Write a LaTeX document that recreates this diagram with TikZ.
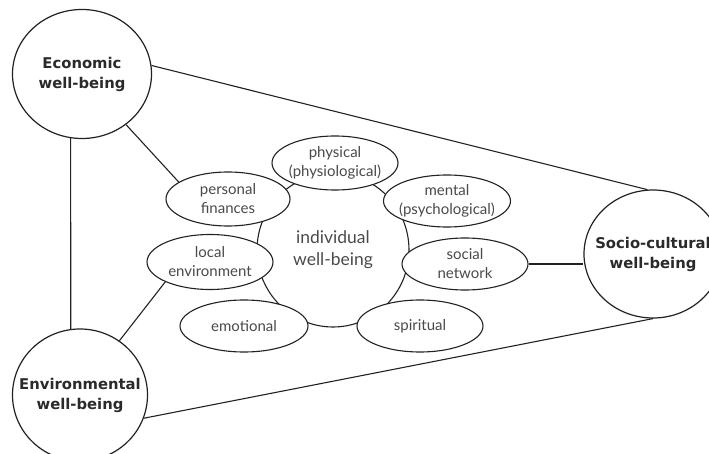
\documentclass[tikz,border=0pt]{standalone}
\usepackage{fontspec}
\setmainfont{Lato}
\newfontfamily\boldface{DejaVu Sans}
\usetikzlibrary{shapes.geometric}
\definecolor{ink}{HTML}{222222}
\definecolor{soft}{HTML}{4A4A4A}
\definecolor{heavy}{HTML}{2A2A2A}
\begin{document}
\begin{tikzpicture}[x=1pt,y=-1pt,
  big/.style={draw=ink,line width=1.2pt,ellipse,fill=white,inner xsep=-24pt,inner ysep=-6pt,align=center,font=\boldface\fontsize{14.8}{20}\selectfont\bfseries,text=heavy},
  sub/.style={draw=ink,line width=1.1pt,ellipse,fill=white,inner xsep=-14pt,inner ysep=-7pt,align=center,font=\fontsize{15}{19}\selectfont,text=soft},
  core/.style={draw=ink,line width=1.1pt,ellipse,inner sep=0pt,align=center,font=\fontsize{17.5}{22}\selectfont,text=soft},
  link/.style={draw=ink,line width=1.1pt}]
\useasboundingbox (0,0) rectangle (709,454);
% outer domains
\node[big,minimum width=139pt,minimum height=129pt] (eco) at (82,74) {Economic\\well-being};
\node[big,minimum width=135pt,minimum height=132pt] (env) at (80,395) {Environmental\\well-being};
\node[big,minimum width=138pt,minimum height=128pt] (soc) at (653,254) {Socio-cultural\\well-being};
% individual core
\node[core,minimum width=152pt,minimum height=154pt] (ind) at (333,250) {individual\\well-being};
% sub ellipses
\node[sub,minimum width=126pt,minimum height=54pt] (phys) at (335,163) {physical\\(physiological)};
\node[sub,minimum width=124pt,minimum height=54pt] (pers) at (228,199) {personal\\finances};
\node[sub,minimum width=127pt,minimum height=52pt] (ment) at (447,201) {mental\\(psychological)};
\node[sub,minimum width=126pt,minimum height=52pt] (net) at (465,264) {social\\network};
\node[sub,minimum width=126pt,minimum height=55pt] (loc) at (210,262) {local\\environment};
\node[sub,minimum width=128pt,minimum height=52pt] (emo) at (244,326) {emotional};
\node[sub,minimum width=126pt,minimum height=52pt] (spir) at (420,326) {spiritual};
% links
\draw[link] (eco.7) -- (soc.95);
\draw[link] (env.340) -- (soc.270);
\draw[link] (eco.260) -- (env.98);
\draw[link] (eco.311) -- (pers.161);
\draw[link] (env.54) -- (loc.204);
\draw[link] (net.east) -- (net.east -| soc.west);
\end{tikzpicture}
\end{document}
